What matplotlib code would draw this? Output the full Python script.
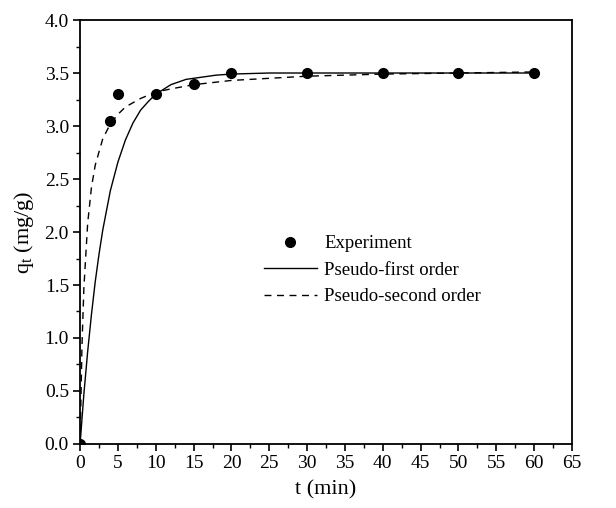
import matplotlib
matplotlib.use("Agg")
import matplotlib.pyplot as plt
from matplotlib.ticker import MultipleLocator

plt.rcParams['font.family'] = ['Liberation Serif', 'DejaVu Serif']
plt.rcParams['mathtext.fontset'] = 'custom'
plt.rcParams['mathtext.rm'] = 'Liberation Serif'

# Experimental points
t_exp = [0, 4, 5, 10, 15, 20, 30, 40, 50, 60]
q_exp = [0.0, 3.05, 3.30, 3.30, 3.40, 3.50, 3.50, 3.50, 3.50, 3.50]

# Pseudo-first order curve
t_pfo = [0, 0.5, 1, 1.5, 2, 2.5, 3, 4, 5, 6, 7, 8, 9, 10, 12, 14, 16, 18, 20, 25, 30, 40, 50, 60]
q_pfo = [0.0, 0.47, 0.87, 1.22, 1.53, 1.79, 2.02, 2.39, 2.66, 2.87, 3.03, 3.15, 3.23, 3.30,
         3.39, 3.44, 3.46, 3.48, 3.49, 3.50, 3.50, 3.50, 3.50, 3.50]

# Pseudo-second order curve
t_pso = [0, 0.25, 0.5, 1, 1.5, 2, 3, 4, 5, 6, 8, 10, 12, 15, 20, 25, 30, 40, 50, 60]
q_pso = [0.0, 0.93, 1.47, 2.08, 2.42, 2.63, 2.88, 3.02, 3.11, 3.18, 3.26, 3.32, 3.35,
         3.39, 3.43, 3.45, 3.47, 3.49, 3.50, 3.51]

fig = plt.figure(figsize=(6.16, 5.08), dpi=100)
ax = fig.add_axes([0.13, 0.126, 0.7986, 0.8346])

ax.plot(t_exp, q_exp, 'o', color='black', markersize=7, label='Experiment')
ax.plot(t_pfo, q_pfo, '-', color='black', linewidth=1.0, label='Pseudo-first order')
ax.plot(t_pso, q_pso, '--', color='black', linewidth=1.0, dashes=(5, 4), label='Pseudo-second order')

ax.set_xlim(0, 65)
ax.set_ylim(0, 4.0)
ax.xaxis.set_major_locator(MultipleLocator(5))
ax.xaxis.set_minor_locator(MultipleLocator(2.5))
ax.yaxis.set_major_locator(MultipleLocator(0.5))
ax.yaxis.set_minor_locator(MultipleLocator(0.25))
ax.yaxis.set_major_formatter(matplotlib.ticker.FormatStrFormatter('%.1f'))
ax.tick_params(which='major', direction='out', length=5, width=1.2, labelsize=14, pad=3)
ax.tick_params(which='minor', direction='out', length=3, width=1.0)
for s in ax.spines.values():
    s.set_linewidth(1.3)

ax.set_xlabel('t (min)', fontsize=16, labelpad=6)
ax.set_ylabel(r'q$_\mathrm{t}$ (mg/g)', fontsize=16, labelpad=6)

ax.legend(loc='upper left', bbox_to_anchor=(0.34, 0.532), frameon=False, fontsize=13.5,
          handlelength=2.8, labelspacing=0.5, handletextpad=0.4)

fig.savefig('out.png', dpi=100)
